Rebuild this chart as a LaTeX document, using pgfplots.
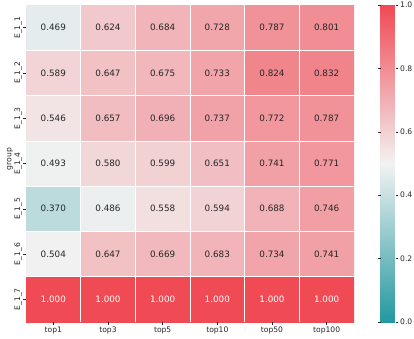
\documentclass[border=0pt]{standalone}
\usepackage{fontspec}
\setmainfont{DejaVu Sans}
\usepackage{pgfplots}
\usepackage{pgfplotstable}
\pgfplotsset{compat=1.18}
\definecolor{txt}{gray}{0.15}

\pgfplotstableread{
x y c
0 0 0.469
1 0 0.624
2 0 0.684
3 0 0.728
4 0 0.787
5 0 0.801
0 1 0.589
1 1 0.647
2 1 0.675
3 1 0.733
4 1 0.824
5 1 0.832
0 2 0.546
1 2 0.657
2 2 0.696
3 2 0.737
4 2 0.772
5 2 0.787
0 3 0.493
1 3 0.580
2 3 0.599
3 3 0.651
4 3 0.741
5 3 0.771
0 4 0.370
1 4 0.486
2 4 0.558
3 4 0.594
4 4 0.688
5 4 0.746
0 5 0.504
1 5 0.647
2 5 0.669
3 5 0.683
4 5 0.734
5 5 0.741
0 6 1.000
1 6 1.000
2 6 1.000
3 6 1.000
4 6 1.000
5 6 1.000
}\heat

\begin{document}
\begin{tikzpicture}
\useasboundingbox (-26pt,-16pt) rectangle (388pt,322pt);
\begin{axis}[
  at={(0,0)}, anchor=south west,
  scale only axis, width=328pt, height=317pt,
  /pgf/number format/assume math mode=true,
  xmin=-0.5, xmax=5.5, ymin=-0.5, ymax=6.5, y dir=reverse,
  axis line style={draw=none},
  xtick={0,1,2,3,4,5},
  xticklabels={top1,top3,top5,top10,top50,top100},
  ytick={0,1,2,3,4,5,6},
  yticklabels={E\_1\_1,E\_1\_2,E\_1\_3,E\_1\_4,E\_1\_5,E\_1\_6,E\_1\_7},
  yticklabel style={rotate=90, anchor=south, inner sep=1.5pt},
  xticklabel style={inner sep=2pt},
  tick pos=left, tick align=outside, major tick length=2.5pt,
  tick style={txt, line width=0.5pt},
  ticklabel style={font=\fontsize{7.6}{8}\selectfont, text=txt},
  ylabel={group},
  every axis y label/.style={at={(axis description cs:0,0.5)}, xshift=-16pt, yshift=4.5pt,
    rotate=90, anchor=center, font=\fontsize{7.6}{8}\selectfont, text=txt},
  extra x ticks={0.5,1.5,2.5,3.5,4.5},
  extra y ticks={0.5,1.5,2.5,3.5,4.5,5.5},
  extra x tick labels={}, extra y tick labels={},
  extra tick style={grid=major, major grid style={white, line width=0.7pt}, major tick length=0pt},
  axis on top,
  colormap={sns}{rgb255(0cm)=(35,152,160); rgb255(1cm)=(242,242,242); rgb255(2cm)=(240,74,85)},
  point meta min=0, point meta max=1,
  colorbar,
  colorbar style={
    at={(parent axis.north east)}, anchor=north west, xshift=18pt,
    width=15pt,
    axis line style={draw=none},
    ytick={0,0.2,0.4,0.6,0.8,1},
    yticklabel={\pgfmathprintnumber[fixed,fixed zerofill,precision=1]{\tick}},
    yticklabel style={font=\fontsize{7.6}{8}\selectfont, text=txt, inner sep=2pt},
    /pgf/number format/assume math mode=true,
    tick align=outside, major tick length=2.5pt,
    tick style={txt, line width=0.5pt},
  },
]
\addplot[matrix plot*, mesh/cols=6, point meta=explicit] table[x=x,y=y,meta=c] {\heat};
\addplot[only marks, mark=none, point meta=explicit,
  restrict y to domain=-1:5.5,
  nodes near coords={\pgfmathprintnumber[fixed,fixed zerofill,precision=3]{\pgfplotspointmeta}},
  nodes near coords style={font=\fontsize{8.8}{10}\selectfont, text=txt, anchor=center}]
  table[x=x,y=y,meta=c] {\heat};
\addplot[only marks, mark=none, point meta=explicit,
  restrict y to domain=5.5:7,
  nodes near coords={\pgfmathprintnumber[fixed,fixed zerofill,precision=3]{\pgfplotspointmeta}},
  nodes near coords style={font=\fontsize{8.8}{10}\selectfont, text=white, anchor=center}]
  table[x=x,y=y,meta=c] {\heat};
\end{axis}
\end{tikzpicture}
\end{document}
